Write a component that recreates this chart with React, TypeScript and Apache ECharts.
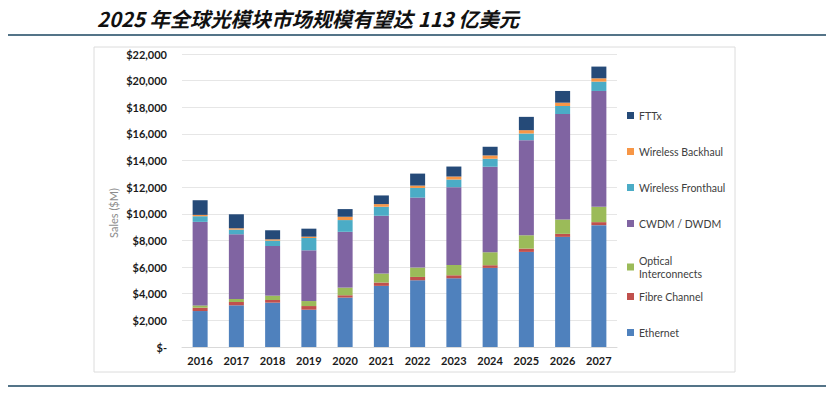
import React, { useEffect, useRef } from "react";
import * as echarts from "echarts";

const years = ["2016", "2017", "2018", "2019", "2020", "2021", "2022", "2023", "2024", "2025", "2026", "2027"];
const ethernet = [2700, 3130, 3330, 2800, 3710, 4590, 5010, 5160, 5940, 7140, 8270, 9150];
const fibreChannel = [250, 250, 200, 275, 175, 250, 250, 225, 200, 250, 225, 225];
const opticalInterconnects = [175, 225, 325, 375, 575, 675, 700, 775, 975, 1000, 1080, 1150];
const cwdmDwdm = [6270, 4860, 3730, 3810, 4190, 4340, 5260, 5840, 6420, 7140, 7920, 8700];
const wirelessFronthaul = [425, 350, 400, 925, 880, 675, 725, 575, 600, 500, 600, 700];
const wirelessBackhaul = [100, 100, 100, 100, 250, 200, 175, 225, 250, 250, 250, 250];
const fttx = [1100, 1050, 680, 600, 575, 650, 900, 750, 650, 1000, 880, 880];

const seriesNames = ["Ethernet", "Fibre Channel", "Optical Interconnects", "CWDM / DWDM", "Wireless Fronthaul", "Wireless Backhaul", "FTTx"];
const seriesValues = [ethernet, fibreChannel, opticalInterconnects, cwdmDwdm, wirelessFronthaul, wirelessBackhaul, fttx];
const seriesColors = ["#4f81bd", "#c0504d", "#9bbb59", "#8064a2", "#4bacc6", "#f79646", "#254a78"];
const legendTops = [326, 290, 254, 217, 181, 145, 109];

const title = "2025 年全球光模块市场规模有望达 113 亿美元";

export default function App() {
  const ref = useRef<HTMLDivElement>(null);
  useEffect(() => {
    if (!ref.current) return;
    const chart = echarts.init(ref.current, null, { renderer: "svg" });
    const font = "Lato, 'Open Sans', sans-serif";
    chart.setOption({
      animation: false,
      backgroundColor: "#ffffff",
      grid: { left: 182, right: 219, top: 54, bottom: 46, containLabel: false },
      xAxis: {
        type: "category",
        data: years,
        axisTick: { show: false },
        axisLine: { lineStyle: { color: "#d9d9d9" } },
        axisLabel: { color: "#1a1a1a", fontFamily: font, fontWeight: "bold", fontSize: 11, margin: 8 },
      },
      yAxis: {
        type: "value",
        min: 0,
        max: 22000,
        interval: 2000,
        axisLine: { show: false },
        axisTick: { show: false },
        splitLine: { lineStyle: { color: "#e6e6e6" } },
        axisLabel: {
          color: "#1a1a1a",
          fontFamily: font,
          fontWeight: "bold",
          fontSize: 11,
          margin: 15,
          formatter: (v: number) => (v === 0 ? "$-" : "$" + v.toLocaleString("en-US")),
        },
      },
      legend: seriesNames.map((name, i) => ({
        data: [name],
        top: legendTops[i],
        left: 627,
        padding: 0,
        orient: "vertical",
        icon: "rect",
        itemWidth: 7,
        itemHeight: 7,
        itemGap: 0,
        selectedMode: false,
        formatter: (n: string) => (n === "Optical Interconnects" ? "Optical\nInterconnects" : n),
        textStyle: { color: "#404040", fontFamily: font, fontSize: 10.5, lineHeight: 13 },
      })),
      series: seriesNames.map((name, i) => ({
        name,
        type: "bar",
        stack: "total",
        barWidth: 15,
        data: seriesValues[i],
        itemStyle: { color: seriesColors[i] },
      })),
      graphic: [
        {
          type: "rect",
          shape: { x: 94, y: 47, width: 641, height: 325 },
          style: { fill: "none", stroke: "#dcdcdc", lineWidth: 1 },
          silent: true,
          z: -1,
        },
        {
          type: "line",
          shape: { x1: 8, y1: 35, x2: 826, y2: 35 },
          style: { stroke: "#1b4660", lineWidth: 1.5 },
        },
        {
          type: "line",
          shape: { x1: 8, y1: 386, x2: 826, y2: 386 },
          style: { stroke: "#1b4660", lineWidth: 1.5 },
        },
        {
          type: "text",
          x: 97,
          y: 18,
          style: {
            text: title,
            font: "italic bold 20.3px 'Noto Sans CJK SC', sans-serif",
            fill: "#111111",
            verticalAlign: "middle",
            align: "left",
          },
        },
        {
          type: "text",
          x: 113,
          y: 213,
          rotation: Math.PI / 2,
          style: {
            text: "Sales ($M)",
            font: "11px Lato, 'Open Sans', sans-serif",
            fill: "#8c8c8c",
            align: "center",
            verticalAlign: "middle",
          },
        },
      ],
    });
    return () => chart.dispose();
  }, []);
  return <div ref={ref} style={{ position: "fixed", left: 0, top: 0, width: 836, height: 393 }} />;
}
